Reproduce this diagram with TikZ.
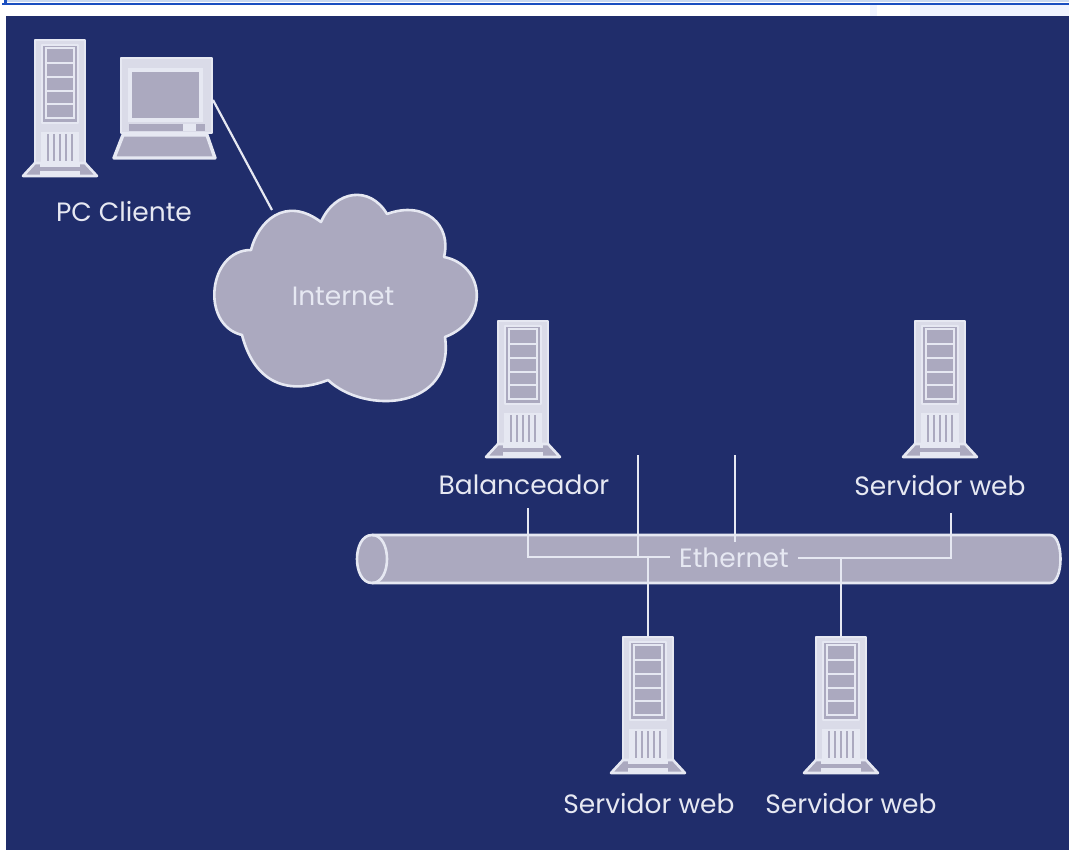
\documentclass[tikz,border=0pt]{standalone}
\usepackage{fontspec}
\setmainfont{Poppins}
\usetikzlibrary{positioning,calc}
\definecolor{navy}{RGB}{32,45,107}
\definecolor{greyfill}{RGB}{171,169,191}
\definecolor{paleline}{RGB}{230,232,242}
\definecolor{stripe}{RGB}{26,79,192}
\definecolor{topband}{RGB}{200,216,240}
\definecolor{palepage}{RGB}{240,244,255}
\tikzset{
    wire/.style={line width=2.2pt,paleline},
    outline/.style={line width=2.6pt,paleline,fill=greyfill,line join=round},
    frame/.style={line width=2.6pt,paleline,line join=round},
    caption/.style={text=paleline,font=\fontsize{26.5}{30}\selectfont,inner sep=0pt},
    serverbox/.pic={
        \draw[frame,fill=paleline!80!greyfill] (-25,0) rectangle (25,125);
        \draw[frame,fill=greyfill] (-18,5) rectangle (18,83);
        \foreach \ya/\yb in {8/23,23/37,37/51,51/64,64/78} {
            \draw[line width=2.6pt,paleline,fill=greyfill] (-14,\ya) rectangle (14,\yb);
        }
        \fill[paleline] (-19,92) rectangle (19,126);
        \foreach \xa in {-12,-6,0,6,12} {
            \draw[line width=1.2pt,greyfill] (\xa,94) -- (\xa,121);
        }
        \draw[outline] (-25,123) -- (25,123) -- (37,136) -- (-37,136) -- cycle;
        \fill[paleline] (-20,124) rectangle (20,127);
        \fill[greyfill] (-20,127) rectangle (20,131);
        \fill[paleline] (-20,131) rectangle (20,136);
        \coordinate (-top) at (0,0);
    },
    laptop/.pic={
        \draw[frame,fill=paleline!80!greyfill] (0,0) rectangle (91,75);
        \draw[line width=3.4pt,paleline,fill=greyfill] (9,12) rectangle (80,62);
        \fill[greyfill] (8,66) rectangle (62,73);
        \fill[paleline] (62,66) rectangle (75,73);
        \fill[greyfill] (75,66) rectangle (84,73);
        \draw[line width=3.4pt,paleline,fill=greyfill,line join=round] (2,77) -- (86,77) -- (94,100) -- (-7,100) -- cycle;
        \coordinate (-port) at (92,42);
    }
}
\begin{document}
\begin{tikzpicture}[x=1pt,y=-1pt]
    \useasboundingbox (0,0) rectangle (1069,850);
    % page background and top stripe
    \fill[white] (0,0) rectangle (1069,850);
    \fill[palepage] (910,5) rectangle (1069,16);
    \fill[palepage] (870,5) rectangle (877,16);
    \fill[topband] (7,0) rectangle (1069,2);
    \fill[stripe] (4,0) rectangle (7,3);
    \fill[stripe] (2,3) rectangle (1069,5);
    \fill[navy] (6,16) rectangle (1069,850);

    \pic (client) at (60,40) {serverbox};
    \pic (note) at (121,58) {laptop};
    \pic (bal) at (523,321) {serverbox};
    \pic (webA) at (940,321) {serverbox};
    \pic (webB) at (648,637) {serverbox};
    \pic (webC) at (841,637) {serverbox};

    \node[caption] (pclabel) at (124,212) {PC Cliente};
    \node[caption] (ballabel) at (524,485) {Balanceador};
    \node[caption] (weblabelA) at (940,486) {Servidor web};
    \node[caption] (weblabelB) at (649,804) {Servidor web};
    \node[caption] (weblabelC) at (851,804) {Servidor web};

    % the cloud
    \draw[outline] (251,250) .. controls (258,222) and (285,195) .. (321,222)
        .. controls (335,190) and (370,185) .. (387,214)
        .. controls (425,200) and (452,225) .. (444,257)
        .. controls (485,265) and (490,320) .. (445,337)
        .. controls (455,410) and (365,415) .. (328,380)
        .. controls (290,395) and (255,385) .. (242,335)
        .. controls (200,325) and (208,250) .. (251,250) -- cycle;
    \coordinate (cloudport) at (272,210);
    \node[caption] (inet) at (343,296) {Internet};
    \draw[wire] (note-port) -- (cloudport);

    % the ethernet tube
    \draw[outline] (372,535) -- (1050,535) .. controls (1064,535) and (1064,583) .. (1050,583) -- (372,583)
        .. controls (352,583) and (352,535) .. (372,535) -- cycle;
    \draw[frame] (372,535) .. controls (392,535) and (392,583) .. (372,583);

    \node[caption] (eth) at (734,558) {Ethernet};
    \coordinate (balend) at (528,508);
    \coordinate (balcorner) at (528,557);
    \coordinate (busleft) at (670,557);
    \coordinate (busright) at (798,558);
    \coordinate (webcorner) at (951,558);
    \coordinate (webend) at (951,513);
    \coordinate (stubAtop) at (638,455);
    \coordinate (stubAbot) at (638,557);
    \coordinate (stubBtop) at (735,455);
    \coordinate (stubBbot) at (735,542);
    \coordinate (dropB) at (648,557);
    \coordinate (dropC) at (841,558);
    \draw[wire] (balend) -- (balcorner) -- (busleft);
    \draw[wire] (busright) -- (webcorner) -- (webend);
    \draw[wire] (stubAtop) -- (stubAbot);
    \draw[wire] (stubBtop) -- (stubBbot);
    \draw[wire] (dropB) -- (webB-top);
    \draw[wire] (dropC) -- (webC-top);
\end{tikzpicture}
\end{document}
